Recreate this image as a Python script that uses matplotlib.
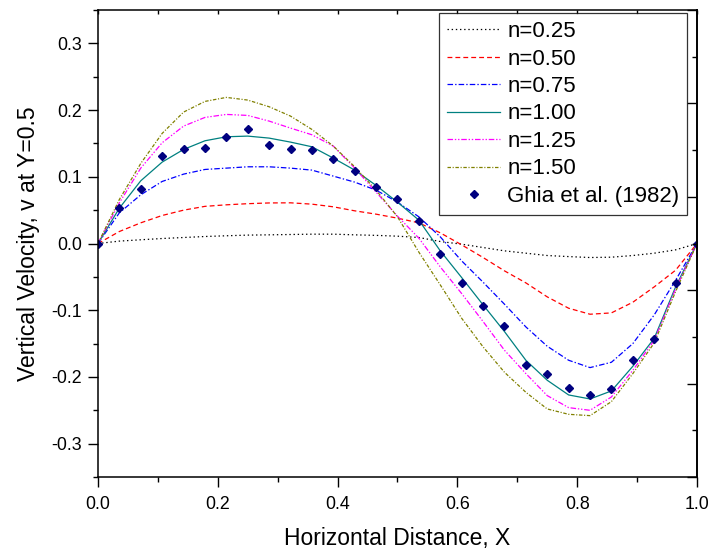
import matplotlib
matplotlib.use("Agg")
import matplotlib.pyplot as plt
from matplotlib.ticker import FixedLocator, FuncFormatter, MultipleLocator

plt.rcParams['font.family'] = ['Liberation Sans', 'DejaVu Sans']
plt.rcParams['lines.scale_dashes'] = False

# Sample positions along the horizontal centre line
x = [0.0, 0.0357, 0.0714, 0.1071, 0.1429, 0.1786, 0.2143, 0.25, 0.2857,
     0.3214, 0.3571, 0.3929, 0.4286, 0.4643, 0.5, 0.5357, 0.5714, 0.6071,
     0.6429, 0.6786, 0.7143, 0.75, 0.7857, 0.8214, 0.8571, 0.8929, 0.9286,
     0.9643, 1.0]

# Vertical velocity profiles for each power-law index n
v_n025 = [0, 0.0036, 0.0056, 0.0075, 0.009, 0.0105, 0.0116, 0.0126, 0.013,
          0.0135, 0.014, 0.014, 0.013, 0.0122, 0.011, 0.009, 0.003, -0.001,
          -0.006, -0.011, -0.0145, -0.018, -0.0196, -0.021, -0.0205, -0.018,
          -0.0145, -0.0095, 0]
v_n050 = [0, 0.018, 0.031, 0.042, 0.050, 0.0557, 0.058, 0.0597, 0.0608,
          0.061, 0.059, 0.055, 0.049, 0.044, 0.038, 0.031, 0.016, -0.002,
          -0.021, -0.041, -0.059, -0.080, -0.097, -0.106, -0.104, -0.088,
          -0.065, -0.040, 0]
v_n075 = [0, 0.046, 0.073, 0.093, 0.104, 0.111, 0.113, 0.115, 0.115, 0.113,
          0.110, 0.101, 0.092, 0.080, 0.062, 0.040, 0.010, -0.026, -0.058,
          -0.091, -0.125, -0.154, -0.175, -0.186, -0.178, -0.150, -0.107,
          -0.055, 0]
v_n100 = [0, 0.053, 0.094, 0.122, 0.141, 0.154, 0.160, 0.161, 0.158, 0.152,
          0.145, 0.128, 0.110, 0.087, 0.062, 0.035, -0.011, -0.051, -0.092,
          -0.132, -0.175, -0.205, -0.227, -0.233, -0.221, -0.184, -0.142,
          -0.065, 0]
v_n125 = [0, 0.061, 0.113, 0.151, 0.176, 0.189, 0.1935, 0.192, 0.1835, 0.173,
          0.163, 0.146, 0.113, 0.077, 0.041, 0.008, -0.035, -0.075, -0.117,
          -0.160, -0.195, -0.228, -0.246, -0.250, -0.230, -0.190, -0.145,
          -0.068, 0]
v_n150 = [0, 0.066, 0.120, 0.165, 0.197, 0.213, 0.219, 0.215, 0.205, 0.191,
          0.171, 0.146, 0.115, 0.080, 0.040, -0.013, -0.062, -0.112, -0.155,
          -0.193, -0.223, -0.248, -0.256, -0.258, -0.237, -0.195, -0.149,
          -0.072, 0]

# Benchmark data of Ghia et al. (1982)
v_ghia = [0, 0.053, 0.082, 0.131, 0.141, 0.143, 0.160, 0.171, 0.148, 0.141,
          0.140, 0.126, 0.108, 0.084, 0.067, 0.034, -0.015, -0.059, -0.094,
          -0.123, -0.182, -0.195, -0.217, -0.227, -0.218, -0.175, -0.143,
          -0.059, 0]

labels = ['n=0.25', 'n=0.50', 'n=0.75', 'n=1.00', 'n=1.25', 'n=1.50']
series = [v_n025, v_n050, v_n075, v_n100, v_n125, v_n150]
colors = ['#000000', '#FF0000', '#0000FF', '#008080', '#FF00FF', '#808000']
styles = [(0, (1.0, 2.0)),
          (0, (3.5, 2.2)),
          (0, (4.0, 1.5, 1.0, 1.5)),
          '-',
          (0, (4.0, 1.3, 1.0, 1.3, 1.0, 1.3)),
          (0, (2.5, 1.2, 0.8, 1.2))]

fig = plt.figure(figsize=(7.1, 5.5), dpi=100)
ax = fig.add_axes([0.138, 0.1327, 0.8437, 0.8491])

for v, lab, c, ls in zip(series, labels, colors, styles):
    ax.plot(x, v, color=c, linestyle=ls, linewidth=0.9, label=lab)
ax.plot(x, v_ghia, linestyle='none', marker='D', markersize=4.4,
        color='#000080', markeredgecolor='#000080', label='Ghia et al. (1982)')

ax.set_xlim(0, 1)
ax.set_ylim(-0.35, 0.35)

fmt = FuncFormatter(lambda val, pos: f"{val:.1f}".replace('\u2212', '-'))
ax.xaxis.set_major_locator(MultipleLocator(0.2))
ax.xaxis.set_minor_locator(MultipleLocator(0.1))
ax.yaxis.set_major_locator(MultipleLocator(0.1))
ax.yaxis.set_minor_locator(MultipleLocator(0.05))
ax.xaxis.set_major_formatter(fmt)
ax.yaxis.set_major_formatter(fmt)

ax.tick_params(which='major', direction='out', length=7.5, width=1.0,
               labelsize=12.8, top=False, right=False)
ax.tick_params(axis='x', which='major', pad=6)
ax.tick_params(axis='y', which='major', pad=4)
ax.tick_params(which='minor', direction='out', length=3.8, width=1.0,
               top=False, right=False)
for sp in ax.spines.values():
    sp.set_linewidth(1.1)
ax.spines['right'].set_linewidth(1.4)

# Inward ticks on the top edge
axt = ax.twiny()
axt.set_xlim(0, 1)
axt.xaxis.set_major_locator(MultipleLocator(0.1))
axt.tick_params(axis='x', direction='in', length=3.2, width=1.0,
                labeltop=False)
# Inward ticks on the right edge
axr = ax.twinx()
axr.set_ylim(-0.35, 0.35)
axr.yaxis.set_major_locator(FixedLocator([-0.35, -0.21, -0.07, 0.07, 0.21, 0.35]))
axr.yaxis.set_minor_locator(FixedLocator([-0.28, -0.14, 0.0, 0.14, 0.28]))
axr.tick_params(axis='y', which='major', direction='in', length=7.2,
                width=1.0, labelright=False)
axr.tick_params(axis='y', which='minor', direction='in', length=3.6,
                width=1.0, labelright=False)
for a in (axt, axr):
    for sp in a.spines.values():
        sp.set_visible(False)

ax.set_xlabel('Horizontal Distance, X', fontsize=16.5, labelpad=10)
ax.set_ylabel('Vertical Velocity, v at Y=0.5', fontsize=16.5, labelpad=8)

handles, labs = ax.get_legend_handles_labels()
leg = axr.legend(handles, labs, loc='upper right',
                 bbox_to_anchor=(0.9833, 0.9929), borderaxespad=0,
                 fontsize=16, frameon=True, fancybox=False, shadow=False,
                 handlelength=2.4, handletextpad=0.3, labelspacing=0.29,
                 borderpad=0.35, numpoints=1)
leg.get_frame().set_edgecolor('black')
leg.get_frame().set_linewidth(0.9)

fig.savefig('out.png', dpi=100)
